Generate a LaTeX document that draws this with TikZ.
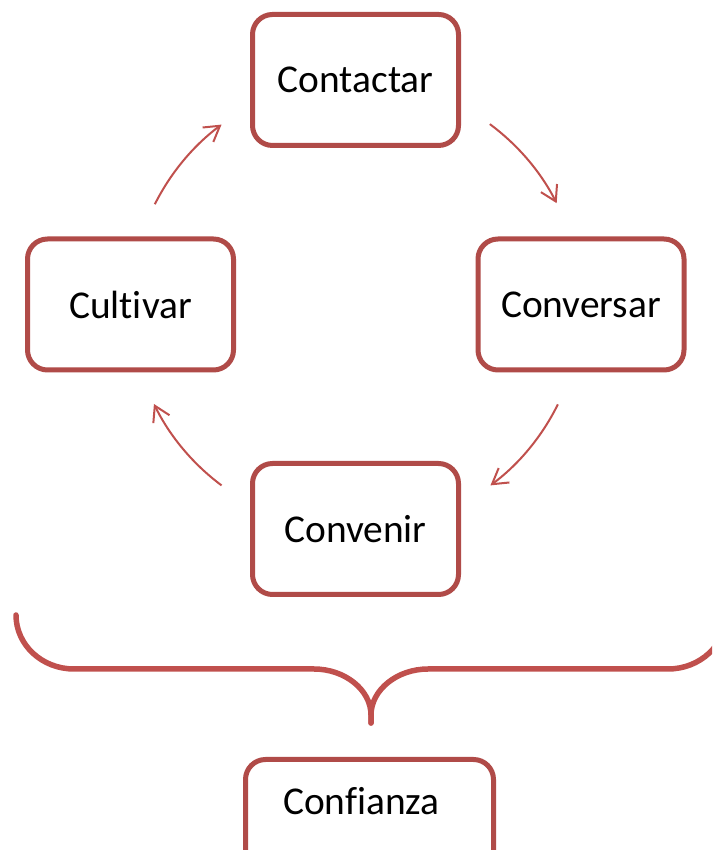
\documentclass[tikz,border=0pt]{standalone}
\usepackage{fontspec}
\setmainfont{Carlito}[Ligatures={CommonOff}]
\usetikzlibrary{arrows.meta,calc}
\definecolor{boxred}{HTML}{B04B48}
\definecolor{linered}{HTML}{C0504D}
\begin{document}
\begin{tikzpicture}[x=1pt,y=1pt,
  stepbox/.style={draw=boxred, line width=5pt, rounded corners=20pt,
    minimum width=206pt, minimum height=131pt, inner sep=0pt,
    font=\fontsize{39.4}{47}\selectfont, fill=white},
  cyclearrow/.style={draw=linered, line width=2pt,
    -{Straight Barb[length=15pt,width=18pt]}},
  bracestyle/.style={draw=linered, line width=5.5pt, line cap=round, line join=round}]
\useasboundingbox (0,0) rectangle (712,850);
\clip (0,0) rectangle (712,850);
% boxes
\node[stepbox] (contactar) at (355.5,770) {Contactar};
\node[stepbox] (conversar) at (581,545.5) {Conversar};
\node[stepbox] (cultivar) at (130.5,545.5) {Cultivar};
\node[stepbox] (convenir) at (355.5,321) {Convenir};
\node[stepbox, minimum width=0pt, minimum height=0pt, text width=248pt, align=left,
      text height=55.5pt, text depth=77.5pt] (confianza) at (369.5,24) {\hspace*{37.5pt}Confianza};
% cycle arrows (arcs of a circle centred at (356,545), radius 225)
\coordinate (c) at (356,545);
\coordinate (a1s) at ($(c)+(53.5:225)$);
\coordinate (a2s) at ($(c)+(-26.2:225)$);
\coordinate (a3s) at ($(c)+(-126.7:225)$);
\coordinate (a4s) at ($(c)+(153.4:225)$);
\draw[cyclearrow] (a1s) arc[start angle=53.5, end angle=26.9, radius=225];
\draw[cyclearrow] (a2s) arc[start angle=-26.2, end angle=-53.3, radius=225];
\draw[cyclearrow] (a3s) arc[start angle=-126.7, end angle=-153.9, radius=225];
\draw[cyclearrow] (a4s) arc[start angle=153.4, end angle=126.7, radius=225];
% brace
\coordinate (bl) at (16,235);
\coordinate (bt) at (371,127);
\coordinate (br) at (726,235);
\draw[bracestyle] (bl) .. controls (16,205) and (42,181) .. (74,181) -- (314,181)
  .. controls (345,181) and (371,160) .. (371,135) -- (bt);
\draw[bracestyle] (bt) -- (371,135) .. controls (371,160) and (397,181) .. (428,181)
  -- (668,181) .. controls (700,181) and (726,205) .. (br);
\end{tikzpicture}
\end{document}
